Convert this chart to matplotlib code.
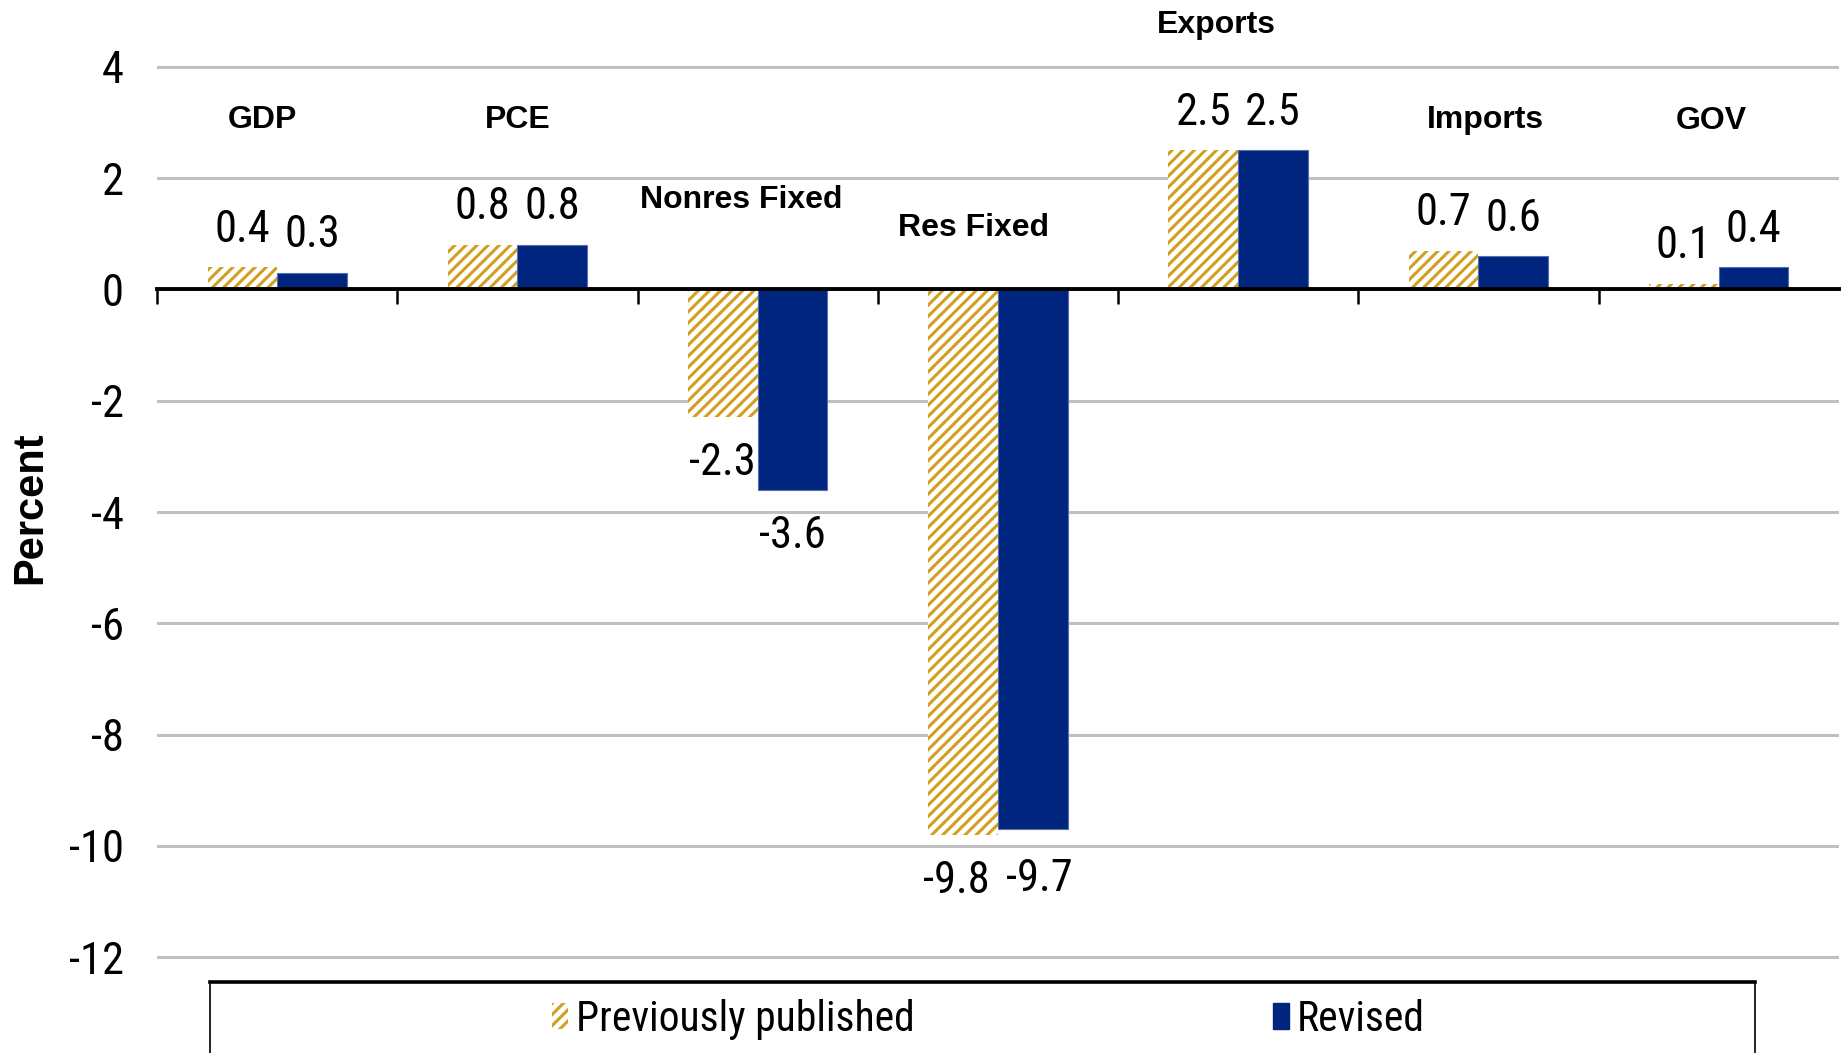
import numpy as np
import matplotlib.pyplot as plt
from matplotlib.patches import Rectangle, Patch
from matplotlib.lines import Line2D

# data
categories = ["GDP", "PCE", "Nonres Fixed", "Res Fixed", "Exports", "Imports", "GOV"]
previous = [0.4, 0.8, -2.3, -9.8, 2.5, 0.7, 0.1]
revised = [0.3, 0.8, -3.6, -9.7, 2.5, 0.6, 0.4]
yticks = [4, 2, 0, -2, -4, -6, -8, -10, -12]

# where the category names sit (layout only)
cat_label_x = [-0.06, 1.0, 1.93, 2.9, 3.91, 5.03, 5.97]
cat_label_y = [3.04, 3.04, 1.6, 1.1, 4.76, 3.04, 3.02]

gold = "#D1A020"
blue = "#00257F"
narrow = ["Roboto Condensed", "Liberation Sans", "DejaVu Sans"]
bold_font = ["Liberation Sans", "DejaVu Sans"]

plt.rcParams["hatch.linewidth"] = 2.2

fig = plt.figure(figsize=(18.48, 10.53), dpi=100)
ax = fig.add_axes([0.085, 0.0858, 0.91, 0.8559])

x = np.arange(len(categories))
w = 0.29

ax.bar(x - w/2, previous, w, color="white", edgecolor=gold, hatch="///", linewidth=0, zorder=3)
ax.bar(x + w/2, revised, w, color=blue, edgecolor="#5570b0", linewidth=0.8, zorder=3)

ax.set_xlim(-0.5, 6.5)
ax.set_ylim(-12.1, 4.1)
ax.set_yticks(yticks)
ax.set_yticklabels([str(t) for t in yticks], family=narrow, fontsize=32)
ax.tick_params(axis="y", length=0, pad=24)
ax.yaxis.grid(True, color="#C0C0C0", linewidth=2.2, zorder=0)
ax.set_axisbelow(True)

for s in ["left", "right", "top"]:
    ax.spines[s].set_visible(False)
ax.spines["bottom"].set_position(("data", 0))
ax.spines["bottom"].set_linewidth(2.8)
ax.spines["bottom"].set_zorder(4)
ax.set_xticks(x)
ax.set_xticklabels([])
ax.tick_params(axis="x", which="major", length=0)
ax.set_xticks(np.arange(-0.5, 6.0, 1.0), minor=True)
ax.tick_params(axis="x", which="minor", length=11, width=1.8, direction="out")

fig.text(30/1848, 1 - 508/1053, "Percent", rotation=90, ha="center", va="center",
         family=bold_font, fontweight="bold", fontsize=30)

# value labels; the two Res Fixed labels are pushed apart a little, as in the original
for vals, off, sign in [(previous, -w/2, -1), (revised, w/2, 1)]:
    for i, v in enumerate(vals):
        dy = 27 if v >= 0 else -33
        dx = 5 * sign if v < -5 else 0
        if v < -5 and sign > 0:
            dy = -36
        ax.annotate(f"{v:.1f}", (i + off, v), xytext=(dx, dy), textcoords="offset points",
                    ha="center", va="center", family=narrow, fontsize=32, zorder=5)

# category labels
for name, lx, ly in zip(categories, cat_label_x, cat_label_y):
    ax.text(lx, ly, name, ha="center", va="center", family=bold_font, fontweight="bold",
            fontsize=23, clip_on=False)

# legend box (runs off the bottom of the figure)
fig.patches.append(Rectangle((0.1136, -0.05), 0.836, 0.1174, transform=fig.transFigure,
                             facecolor="none", edgecolor="black", linewidth=1.2))
fig.lines.append(Line2D([0.1136, 0.9497], [0.0674, 0.0674], transform=fig.transFigure,
                        color="black", linewidth=2.6))

handles = [Patch(facecolor="white", edgecolor=gold, hatch="///", linewidth=0),
           Patch(facecolor=blue, edgecolor=blue)]
leg = fig.legend(handles, ["Previously published", "Revised"], ncol=2, loc="center",
                 bbox_to_anchor=(0.535, 0.032), frameon=False,
                 prop={"family": narrow, "size": 30},
                 handlelength=0.37, handleheight=0.6, handletextpad=0.2, columnspacing=8.6)

fig.savefig("out.png", dpi=100)
